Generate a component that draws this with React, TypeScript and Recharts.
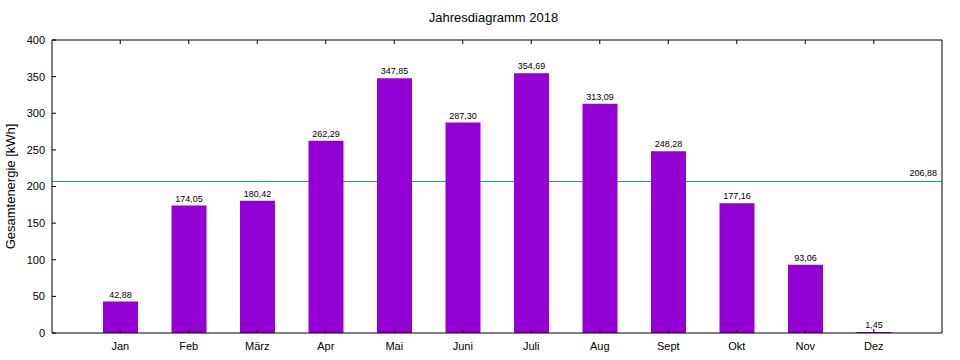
import React from 'react';
import { BarChart, Bar, XAxis, YAxis, ReferenceLine, LabelList } from 'recharts';

const MONTHS = ['Jan', 'Feb', 'März', 'Apr', 'Mai', 'Juni', 'Juli', 'Aug', 'Sept', 'Okt', 'Nov', 'Dez'];
const ENERGY = [42.88, 174.05, 180.42, 262.29, 347.85, 287.3, 354.69, 313.09, 248.28, 177.16, 93.06, 1.45];
const AVERAGE = 206.88;
const Y_TICKS = [0, 50, 100, 150, 200, 250, 300, 350, 400];

const data = MONTHS.map((m, i) => ({ month: m, value: ENERGY[i] }));

const fmt = (v: number) => v.toFixed(2).replace('.', ',');

const FONT = '"Liberation Sans", Arial, sans-serif';
const hideTick = () => <g />;

const App: React.FC = () => {
  return (
    <div style={{ position: 'absolute', left: 0, top: 0, width: 960, height: 360, background: '#fff', fontFamily: FONT }}>
      <div style={{ position: 'absolute', left: 0, top: 10, width: 987, textAlign: 'center', fontSize: 13, lineHeight: '16px', color: '#000' }}>
        Jahresdiagramm 2018
      </div>
      <BarChart width={960} height={360} data={data} margin={{ top: 10, right: 8, bottom: 0, left: 5 }}>
        <XAxis
          xAxisId="bottom"
          dataKey="month"
          height={27}
          padding={{ left: 34, right: 34 }}
          stroke="#000"
          tickSize={-4}
          tickMargin={13}
          tick={{ fontSize: 11, fill: '#000', fontFamily: FONT }}
        />
        <XAxis
          xAxisId="top"
          dataKey="month"
          orientation="top"
          height={30}
          padding={{ left: 34, right: 34 }}
          stroke="#000"
          tickSize={-4}
          tick={hideTick}
        />
        <YAxis
          yAxisId="left"
          width={47}
          domain={[0, 400]}
          ticks={Y_TICKS}
          stroke="#000"
          tickSize={-4}
          tickMargin={11}
          tick={{ fontSize: 11, fill: '#000', fontFamily: FONT }}
          label={{ value: 'Gesamtenergie [kWh]', angle: -90, position: 'insideLeft', offset: 5, style: { textAnchor: 'middle', fontSize: 13, fill: '#000', fontFamily: FONT } }}
        />
        <YAxis
          yAxisId="right"
          orientation="right"
          width={10}
          domain={[0, 400]}
          ticks={Y_TICKS}
          stroke="#000"
          tickSize={-4}
          tick={hideTick}
        />
        <ReferenceLine
          xAxisId="bottom"
          yAxisId="left"
          y={AVERAGE}
          stroke="#1a9a78"
          zIndex={-50}
          label={{ value: fmt(AVERAGE), position: 'insideBottomRight', offset: 5, fontSize: 9, fill: '#000', fontFamily: FONT }}
        />
        <Bar xAxisId="bottom" yAxisId="left" dataKey="value" fill="#9400D3" barSize={35} isAnimationActive={false}>
          <LabelList dataKey="value" position="top" offset={4} formatter={(v: any) => fmt(Number(v))} style={{ fontSize: 9, fill: '#000', fontFamily: FONT }} />
        </Bar>
      </BarChart>
    </div>
  );
};

export default App;
